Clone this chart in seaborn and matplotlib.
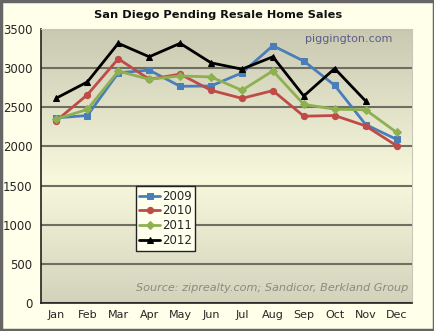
import numpy as np
import pandas as pd
import matplotlib
matplotlib.use("Agg")
import matplotlib.pyplot as plt
from matplotlib.colors import LinearSegmentedColormap
from matplotlib.patches import Rectangle
import seaborn as sns

months = ["Jan", "Feb", "Mar", "Apr", "May", "Jun", "Jul", "Aug", "Sep", "Oct", "Nov", "Dec"]
sales_2009 = [2365, 2395, 2940, 2975, 2768, 2772, 2940, 3287, 3090, 2780, 2280, 2090]
sales_2010 = [2330, 2660, 3120, 2858, 2923, 2717, 2614, 2713, 2386, 2395, 2262, 2010]
sales_2011 = [2352, 2472, 2961, 2858, 2900, 2888, 2717, 2965, 2537, 2476, 2468, 2180]
sales_2012 = [2618, 2824, 3317, 3145, 3317, 3068, 2987, 3145, 2644, 2995, 2580]
yticks = [0, 500, 1000, 1500, 2000, 2500, 3000, 3500]

series = [
    ("2009", sales_2009, "#4A7EBB", "s"),
    ("2010", sales_2010, "#BE4B48", "o"),
    ("2011", sales_2011, "#8EB051", "D"),
    ("2012", sales_2012, "#000000", "^"),
]

sns.set_theme(style="white")
plt.rcParams["font.family"] = ["DejaVu Sans"]

fig = plt.figure(figsize=(4.35, 3.31), dpi=100, facecolor="#FFFFEA")
ax = fig.add_axes([41/435, 1-303/331, (412-41)/435, (303-29)/331])
ax.set_facecolor("none")

# gradient background
cmap = LinearSegmentedColormap.from_list("bg", [(0, "#D3D3BC"), (0.45, "#F8F8DD"), (1, "#C9C9B2")])
grad = np.linspace(0, 1, 256).reshape(-1, 1)
ax.imshow(grad, extent=[0, 1, 0, 1], transform=ax.transAxes, aspect="auto",
          cmap=cmap, origin="lower", zorder=0)

for lab, vals, col, mk in series:
    sns.lineplot(x=months[:len(vals)], y=vals, ax=ax, color=col, marker=mk,
                 markersize={"s": 4.3, "o": 4.5, "D": 3.8, "^": 5}[mk],
                 markeredgecolor=col, linewidth=2.0,
                 label=lab, sort=False, zorder=3)

ax.set_xlim(-0.5, 11.5)
ax.set_ylim(0, 3500)
ax.set_yticks(yticks)
ax.set_yticklabels([str(v) for v in yticks], fontsize=8.5)
ax.set_xticks(range(12))
ax.set_xticklabels(months, fontsize=8)
ax.set_xticks(np.arange(-0.5, 12, 1), minor=True)
ax.tick_params(axis="x", which="major", length=0, pad=5)
ax.tick_params(axis="x", which="minor", length=4, width=1, color="#222222", direction="out")
ax.tick_params(axis="y", which="major", length=3, width=1, color="#222222", direction="out", pad=3)
ax.yaxis.grid(True, color="#6E6E62", linewidth=1.5, zorder=1)
ax.set_axisbelow(True)
for s in ["top", "right"]:
    ax.spines[s].set_color("#C8C8B8")
    ax.spines[s].set_linewidth(0.8)
for s in ["left", "bottom"]:
    ax.spines[s].set_color("#222222")
    ax.spines[s].set_linewidth(1.2)
ax.set_xlabel("")
ax.set_ylabel("")

leg = ax.legend(loc="lower left", bbox_to_anchor=(0.24, 0.17), fontsize=8.5,
                handlelength=1.7, handletextpad=0.2, borderpad=0.3, labelspacing=0.15,
                frameon=True, fancybox=False, facecolor="#FFFFEE", edgecolor="#222222",
                framealpha=1)
leg.get_frame().set_linewidth(1.0)

fig.text(218/435, 1-15/331, "San Diego Pending Resale Home Sales", ha="center", va="center",
         fontsize=8.2, fontweight="bold", color="#111111")
ax.text(0.946, 0.964, "piggington.com", transform=ax.transAxes, ha="right", va="center",
        fontsize=8, color="#5C5C8A")
ax.text(0.99, 0.055, "Source: ziprealty.com; Sandicor, Berkland Group", transform=ax.transAxes,
        ha="right", va="center", fontsize=8.1, style="italic", color="#8A8A80")

fig.patches.append(Rectangle((0.002, 0.003), 0.995, 0.994, transform=fig.transFigure,
                             fill=False, edgecolor="#666666", linewidth=2.5))

fig.savefig("out.png", dpi=100, facecolor=fig.get_facecolor())
